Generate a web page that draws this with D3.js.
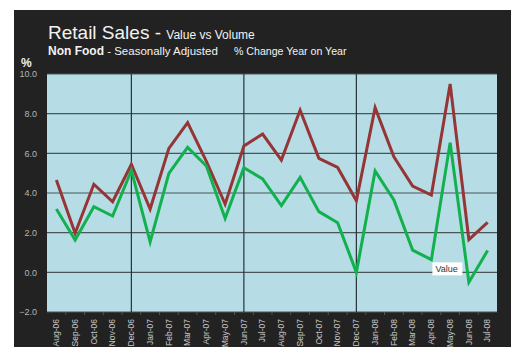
<!DOCTYPE html>
<html><head><meta charset="utf-8">
<script src="https://cdn.jsdelivr.net/npm/d3@7"></script>
<style>
html,body{margin:0;padding:0;background:#fff;}
svg{display:block;}
</style></head>
<body>
<svg id="chart" width="511" height="347"></svg>
<script>
const months = ["Aug-06","Sep-06","Oct-06","Nov-06","Dec-06","Jan-07","Feb-07","Mar-07","Apr-07","May-07","Jun-07","Jul-07","Aug-07","Sep-07","Oct-07","Nov-07","Dec-07","Jan-08","Feb-08","Mar-08","Apr-08","May-08","Jun-08","Jul-08"];
const valueSeries = [4.65,1.97,4.44,3.56,5.45,3.19,6.25,7.55,5.6,3.44,6.37,6.97,5.66,8.18,5.75,5.29,3.61,8.3,5.83,4.35,3.9,9.5,1.65,2.52];
const volumeSeries = [3.19,1.63,3.31,2.84,5.14,1.53,4.99,6.3,5.36,2.72,5.28,4.71,3.36,4.79,3.06,2.5,0.0,5.11,3.65,1.12,0.64,6.54,-0.5,1.1];
const yTicks = [-2,0,2,4,6,8,10];
const dividers = ["Dec-06","Jun-07","Dec-07"];

const svg = d3.select("#chart");
svg.append("rect").attr("x",14).attr("y",10).attr("width",497).attr("height",337).attr("fill","#222222");

const m = {l:47, t:74, r:497, b:312};
const x = d3.scaleBand().domain(months).range([m.l, m.r]);
const y = d3.scaleLinear().domain([-2,10]).range([m.b, m.t]);
const cx = d => x(d) + x.bandwidth()/2;

svg.append("rect").attr("x",m.l).attr("y",m.t).attr("width",m.r-m.l).attr("height",m.b-m.t).attr("fill","#b6dce6");

// grid lines
svg.append("g").selectAll("line").data(yTicks).join("line")
  .attr("x1",m.l).attr("x2",m.r).attr("y1",d=>y(d)).attr("y2",d=>y(d))
  .attr("stroke","#4a5559").attr("stroke-width",1.2);
svg.append("g").selectAll("line").data(dividers).join("line")
  .attr("x1",d=>cx(d)).attr("x2",d=>cx(d)).attr("y1",m.t).attr("y2",m.b)
  .attr("stroke","#2a3336").attr("stroke-width",1.2);

// y axis labels
const yAxis = d3.axisLeft(y).tickValues(yTicks).tickFormat(d3.format(".1f")).tickSize(0).tickPadding(10);
const ya = svg.append("g").attr("transform",`translate(${m.l},0)`).call(yAxis);
ya.select(".domain").remove();
ya.selectAll("text").attr("fill","#b5b5b5").style("font-family","Liberation Sans, Arial, sans-serif").style("font-size","9px");

// x axis
const xAxis = d3.axisBottom(x).tickSize(0).tickPadding(0);
const xa = svg.append("g").attr("transform",`translate(0,${m.b})`).call(xAxis);
xa.select(".domain").attr("stroke","#3a3a3a");
xa.selectAll("text")
  .attr("transform","rotate(-90)")
  .attr("text-anchor","end")
  .attr("x",-7).attr("y",0).attr("dy","0.32em")
  .attr("fill","#c8c8c8")
  .style("font-family","Liberation Sans Narrow, Liberation Sans, Arial, sans-serif")
  .style("font-size","8.5px");
// minor ticks between categories
svg.append("g").selectAll("line").data(months.slice(1)).join("line")
  .attr("x1",d=>x(d)).attr("x2",d=>x(d)).attr("y1",m.b).attr("y2",m.b+3)
  .attr("stroke","#555").attr("stroke-width",1);

// lines
const line = d3.line().x((d,i)=>cx(months[i])).y(d=>y(d));
svg.append("path").datum(valueSeries).attr("d",line).attr("fill","none")
  .attr("stroke","#953535").attr("stroke-width",3).attr("stroke-linejoin","miter");
svg.append("path").datum(volumeSeries).attr("d",line).attr("fill","none")
  .attr("stroke","#13b04e").attr("stroke-width",3).attr("stroke-linejoin","miter");

// "Value" label box
const lbl = svg.append("g").attr("transform",`translate(${cx("Apr-08")+1},${y(0.2)})`);
lbl.append("rect").attr("x",0).attr("y",-6).attr("width",30).attr("height",13).attr("fill","#ffffff");
lbl.append("text").attr("x",3).attr("y",4).text("Value").attr("fill","#333")
  .style("font-family","Liberation Sans, Arial, sans-serif").style("font-size","9px");

// titles
const t1 = svg.append("text").attr("x",48).attr("y",39).attr("fill","#f2f2f2")
  .style("font-family","Liberation Sans, Arial, sans-serif");
t1.append("tspan").text("Retail Sales").style("font-size","19px");
t1.append("tspan").text(" - ").style("font-size","19px");
t1.append("tspan").text("Value vs Volume").style("font-size","12px");

const t2 = svg.append("text").attr("x",48).attr("y",55).attr("fill","#f2f2f2")
  .style("font-family","Liberation Sans, Arial, sans-serif");
t2.append("tspan").text("Non Food").style("font-size","12px").style("font-weight","bold");
t2.append("tspan").text(" - Seasonally Adjusted").style("font-size","11.5px");
svg.append("text").attr("x",234).attr("y",55).attr("fill","#f2f2f2")
  .style("font-family","Liberation Sans, Arial, sans-serif").style("font-size","10.6px")
  .text("% Change Year on Year");

svg.append("text").attr("x",21).attr("y",67).text("%").attr("fill","#f2f2f2")
  .style("font-family","Liberation Sans, Arial, sans-serif").style("font-size","12px").style("font-weight","bold");
</script>
</body></html>
